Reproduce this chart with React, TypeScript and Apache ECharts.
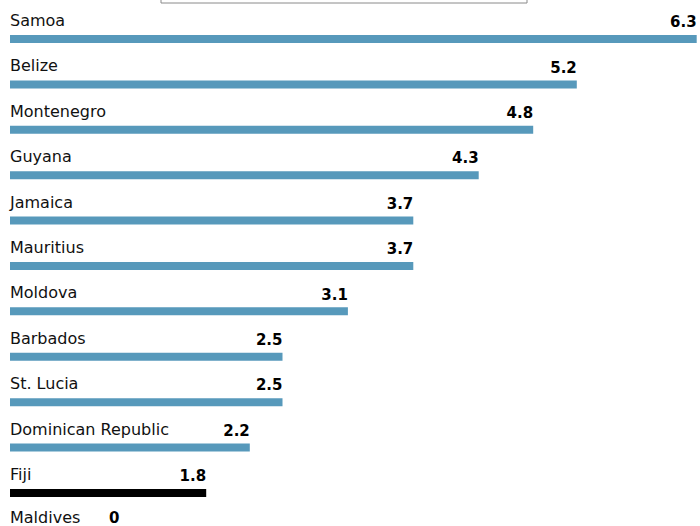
import React, { useEffect, useRef } from "react";
import * as echarts from "echarts";

const countries = [
  "Samoa",
  "Belize",
  "Montenegro",
  "Guyana",
  "Jamaica",
  "Mauritius",
  "Moldova",
  "Barbados",
  "St. Lucia",
  "Dominican Republic",
  "Fiji",
  "Maldives",
];
const values = [6.3, 5.2, 4.8, 4.3, 3.7, 3.7, 3.1, 2.5, 2.5, 2.2, 1.8, 0];
const highlight = "Fiji";

const BLUE = "#5799bb";
const FONT = "'DejaVu Sans', sans-serif";

export default function App() {
  const ref = useRef<HTMLDivElement>(null);
  useEffect(() => {
    if (!ref.current) return;
    const chart = echarts.init(ref.current, undefined, { renderer: "svg" });
    const lastIdx = countries.length - 1;
    const barData = values.map((v, i) => ({
      value: v,
      itemStyle: { color: countries[i] === highlight ? "#000000" : BLUE },
      ...(i === lastIdx ? { label: { position: [0, -16.4] } } : {}),
    }));
    const valData = values.map((v) =>
      v === 0
        ? {
            value: v,
            label: { position: [99, 0.3], align: "left", verticalAlign: "middle" },
          }
        : { value: v }
    );
    chart.setOption({
      animation: false,
      backgroundColor: "#ffffff",
      grid: { left: 10, right: 3.3, top: 16.3, bottom: 0, containLabel: false },
      xAxis: { type: "value", min: 0, max: 6.3, show: false },
      yAxis: {
        type: "category",
        data: countries,
        inverse: true,
        show: false,
      },
      graphic: [
        {
          type: "rect",
          shape: { x: 161, y: -10, width: 366, height: 13 },
          style: { fill: "#ffffff", stroke: "#8a8a8a", lineWidth: 1 },
        },
      ],
      series: [
        {
          type: "bar",
          data: barData,
          barWidth: 8,
          barGap: "-100%",
          label: {
            show: true,
            position: [0, -14.4],
            align: "left",
            verticalAlign: "middle",
            formatter: (p: any) => countries[p.dataIndex],
            fontFamily: FONT,
            fontSize: 16,
            lineHeight: 16,
            color: "#111111",
          },
        },
        {
          type: "bar",
          data: valData,
          barWidth: 8,
          barGap: "-100%",
          itemStyle: { color: "transparent" },
          label: {
            show: true,
            position: "insideRight",
            distance: 0,
            offset: [0, -16.8],
            align: "right",
            verticalAlign: "middle",
            formatter: (p: any) => String(p.value),
            fontFamily: FONT,
            fontSize: 15,
            lineHeight: 15,
            fontWeight: "bold",
            color: "#000000",
          },
        },
      ],
    });
    return () => chart.dispose();
  }, []);
  return (
    <div
      style={{
        position: "fixed",
        left: 0,
        top: 0,
        width: 700,
        height: 526,
        overflow: "hidden",
        background: "#ffffff",
      }}
    >
      <div ref={ref} style={{ width: 700, height: 561 }} />
    </div>
  );
}
